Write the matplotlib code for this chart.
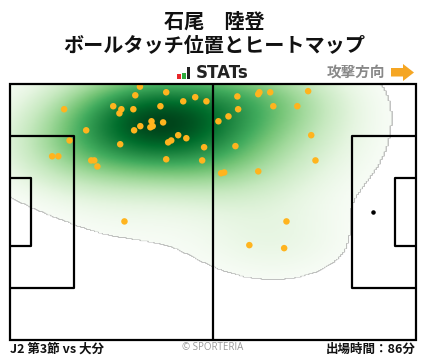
import numpy as np
import matplotlib
matplotlib.use("Agg")
import matplotlib.pyplot as plt
from matplotlib.patches import Rectangle, Polygon
from matplotlib.transforms import IdentityTransform

plt.rcParams['font.family'] = ['Noto Sans CJK JP', 'DejaVu Sans']

# ---- data (pitch metres, x: 0-105 towards attack, y: 0-68) ----
touch_x = [33.6, 32.4, 40.4, 14.0, 26.7, 28.8, 28.3, 31.9, 38.9, 44.8,
           47.9, 50.8, 53.9, 19.7, 32.1, 33.7, 36.6, 36.3, 36.9, 39.6,
           43.5, 45.6, 40.9, 41.7, 50.2, 15.4, 28.5, 10.9, 12.5, 21.0,
           21.8, 22.6, 40.4, 49.7, 29.6, 58.8, 64.5, 64.2, 67.3, 77.1,
           59.0, 56.5, 68.1, 74.3, 77.9, 58.3, 79.0, 54.6, 55.4, 64.2,
           71.5, 61.9, 70.9]
touch_y = [67.3, 65.0, 65.8, 61.3, 62.1, 61.3, 60.2, 61.3, 62.1, 63.4,
           64.5, 63.4, 58.1, 55.7, 55.7, 56.8, 58.1, 56.5, 56.8, 57.8,
           54.4, 53.6, 52.5, 53.0, 51.2, 53.0, 52.0, 48.8, 48.8, 47.7,
           47.7, 46.1, 48.0, 47.7, 31.5, 64.7, 65.8, 65.3, 65.8, 66.1,
           61.3, 59.4, 62.1, 62.1, 54.4, 51.5, 47.7, 44.3, 44.5, 44.8,
           31.5, 25.2, 24.4]

title_player = "石尾　陸登"
title_sub = "ボールタッチ位置とヒートマップ"
footer_left = "J2 第3節 vs 大分"
footer_mid = "© SPORTERIA"
footer_right = "出場時間：86分"
direction_label = "攻撃方向"

PITCH_L, PITCH_W = 105.0, 68.0

fig = plt.figure(figsize=(4.28, 3.59), dpi=100)
ax = fig.add_axes([10/428, 19/359, 406/428, 256/359])

# ---- KDE heatmap (iso-proportion colouring, like seaborn kdeplot) ----
pts = np.vstack([touch_x, touch_y])
n = pts.shape[1]
factor = n ** (-1.0 / 6) * 1.5
cov = np.cov(pts) * factor ** 2
inv = np.linalg.inv(cov)
bw = np.sqrt(np.diag(cov))
cut = 3
gx = np.linspace(pts[0].min() - cut * bw[0], pts[0].max() + cut * bw[0], 300)
gy = np.linspace(pts[1].min() - cut * bw[1], pts[1].max() + cut * bw[1], 300)
GX, GY = np.meshgrid(gx, gy)
d = np.stack([GX.ravel(), GY.ravel()])
dens = np.zeros(d.shape[1])
for i in range(n):
    diff = d - pts[:, i:i+1]
    dens += np.exp(-0.5 * np.sum(diff * (inv @ diff), axis=0))
srt = np.sort(dens)
cum = np.cumsum(srt)
cum /= cum[-1]
q = np.interp(dens, srt, cum).reshape(GX.shape)
thresh = 0.05
img = np.ma.masked_less(q, thresh)
ax.imshow(img, extent=(gx[0], gx[-1], gy[0], gy[-1]), origin='lower', cmap='Greens',
          vmin=thresh, vmax=1.0, interpolation='bilinear', aspect='auto', zorder=1)

ax.set_xlim(0, PITCH_L)
ax.set_ylim(0, PITCH_W)
ax.axis('off')

# ---- pitch lines ----
lw = 1.6
lc = 'black'
ax.add_patch(Rectangle((0, 0), PITCH_L, PITCH_W, fill=False, ec=lc, lw=lw, zorder=4, clip_on=False))
ax.plot([PITCH_L / 2, PITCH_L / 2], [0, PITCH_W], color=lc, lw=lw, zorder=4)
pb_w, pb_d = 40.32, 16.5
ga_w, ga_d = 18.32, 5.5
for x0, sgn in [(0, 1), (PITCH_L, -1)]:
    ax.plot([x0, x0 + sgn * pb_d, x0 + sgn * pb_d, x0],
            [PITCH_W/2 - pb_w/2, PITCH_W/2 - pb_w/2, PITCH_W/2 + pb_w/2, PITCH_W/2 + pb_w/2],
            color=lc, lw=lw, zorder=4)
    ax.plot([x0, x0 + sgn * ga_d, x0 + sgn * ga_d, x0],
            [PITCH_W/2 - ga_w/2, PITCH_W/2 - ga_w/2, PITCH_W/2 + ga_w/2, PITCH_W/2 + ga_w/2],
            color=lc, lw=lw, zorder=4)
ax.scatter([PITCH_L - 11], [PITCH_W / 2], s=5, color='black', zorder=4)

# ---- touches ----
ax.scatter(touch_x, touch_y, s=22, color='#FFB41E', edgecolors='none', zorder=3)

# ---- titles ----
fig.text(214/428, 1 - 21/359, title_player, ha='center', va='center',
         fontsize=14.5, fontweight='bold', color='#111111')
fig.text(214/428, 1 - 46/359, title_sub, ha='center', va='center',
         fontsize=14.5, fontweight='bold', color='#111111')

# STATs logo
H = 359
idt = IdentityTransform()
for (x0, x1, ytop, col) in [(177, 181, 74, '#e8262a'), (182, 186, 73, '#2eaa3c'), (187, 190, 67, '#222222')]:
    fig.add_artist(Rectangle((x0, H - 79), x1 - x0, 79 - ytop, transform=idt,
                             facecolor=col, edgecolor='none'))
fig.text(196/428, 1 - 73.5/359, "STATs", ha='left', va='center', fontsize=12,
         fontweight='bold', color='#222222', family='DejaVu Sans')

# direction
fig.text(385/428, 1 - 72/359, direction_label, ha='right', va='center',
         fontsize=10.5, color='#888888', fontweight='bold')
arrow = [(391, 68), (403, 68), (403, 64), (414, 72.5), (403, 81), (403, 76.5), (391, 76.5)]
fig.add_artist(Polygon([(x, H - y) for x, y in arrow], closed=True, transform=idt,
                       facecolor='#F5A623', edgecolor='none'))

# footer
fig.text(10/428, 1 - 349/359, footer_left, ha='left', va='center',
         fontsize=9, fontweight='bold', color='#111111')
fig.text(213/428, 1 - 348/359, footer_mid, ha='center', va='center',
         fontsize=7, color='#999999', family=['Open Sans', 'DejaVu Sans'])
fig.text(416/428, 1 - 349/359, footer_right, ha='right', va='center',
         fontsize=9, fontweight='bold', color='#111111')

fig.savefig('out.png', dpi=100, facecolor='white')
